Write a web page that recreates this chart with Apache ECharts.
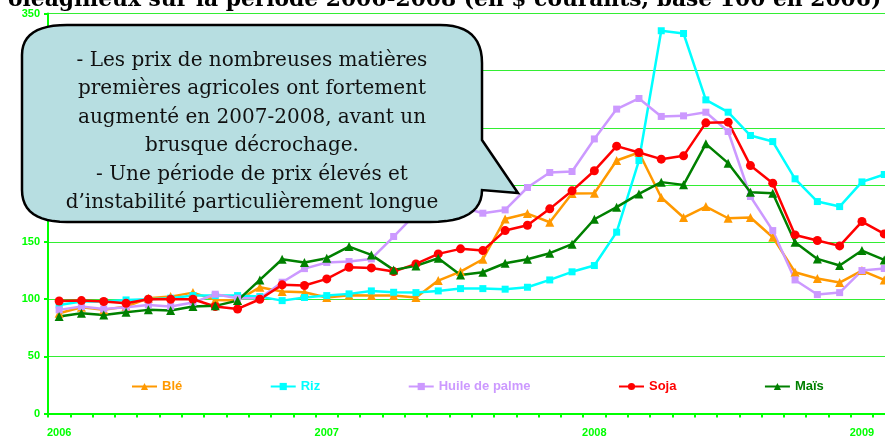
<!DOCTYPE html>
<html>
<head>
<meta charset="utf-8">
<script src="https://cdn.jsdelivr.net/npm/echarts@6/dist/echarts.min.js"></script>
<style>
  html, body { margin: 0; padding: 0; background: #fff; }
  #chart { width: 885px; height: 438px; }
</style>
</head>
<body>
<div id="chart"></div>
<script>
// mois de janvier 2006 à février 2009
var months = [];
for (var y = 2006; y <= 2009; y++) {
    for (var m = 1; m <= 12; m++) {
        if (months.length < 38) months.push(y + '-' + (m < 10 ? '0' + m : m));
    }
}

var yTicks = [0, 50, 100, 150, 200, 250, 300, 350];

var ble = [87.7, 93, 90.7, 93.6, 100.9, 102.3, 105.8, 99.4, 99, 110.5, 106.7, 106.1, 101.5, 103.5, 103.2, 103.2, 101.5, 116.3, 124.2, 135, 170.3, 175, 167.4, 192.5, 192.8, 221.4, 228.4, 189, 171.5, 181.1, 170.9, 171.5, 154.3, 123.6, 118.1, 114.6, 125.1, 116.9];
var riz = [95, 98, 98, 99.4, 100, 100.9, 103.2, 103.2, 103.2, 102.3, 98.8, 101.5, 103.2, 104.7, 107.3, 106.1, 105.8, 107.3, 109.3, 109.3, 108.8, 110.5, 116.9, 124, 129.5, 158.7, 221.4, 335, 332.6, 274.5, 263.7, 243.3, 238, 205.4, 185.5, 181.1, 202.7, 209.2];
var huile = [90.7, 93.6, 91.5, 93, 95, 93.6, 97.1, 104.4, 100.9, 100.9, 114.9, 126.8, 132.2, 133, 135.3, 154.9, 175, 190, 181, 175.3, 178.2, 197.8, 210.9, 211.8, 240.3, 266.4, 275.7, 260, 260.5, 263.7, 246.8, 189.9, 160.1, 116.9, 104.1, 105.8, 125.1, 126.9];
var soja = [98.5, 98.8, 98, 96.5, 100, 100, 100, 93.6, 91.5, 100, 112.6, 112, 117.8, 128, 127.4, 124.2, 130.9, 139.7, 144.1, 142.6, 160.1, 164.8, 179.1, 194.9, 212.5, 234, 228.4, 222.6, 225.5, 254.4, 255, 217, 201.6, 156.3, 151.4, 146.7, 168, 157.2];
var mais = [84.8, 87.7, 86.3, 88.6, 90.7, 90.1, 93.6, 94.2, 98.8, 116.9, 135, 132.2, 135.9, 146.1, 138.8, 125.7, 129.2, 135.9, 121.3, 123.6, 131.5, 135, 140.3, 148.2, 170, 180.6, 192.2, 202.5, 200.1, 236, 219.1, 193.7, 192.8, 149.9, 135.3, 129.5, 142.6, 134.4];

var seriesNames = ['Blé', 'Riz', 'Huile de palme', 'Soja', 'Maïs'];
var seriesColors = ['#ff9900', '#00ffff', '#cc99ff', '#ff0000', '#008000'];
var seriesSymbols = ['triangle', 'rect', 'rect', 'circle', 'triangle'];
var seriesSizes = [9, 7, 7, 9, 9];
var seriesData = [ble, riz, huile, soja, mais];

var calloutText = [
    '- Les prix de nombreuses matières',
    'premières agricoles ont fortement',
    'augmenté en 2007-2008, avant un',
    'brusque décrochage.',
    '- Une période de prix élevés et',
    'd\u2019instabilité particulièrement longue'
];

// contour de la bulle : segments droits et coins courbes (quadratiques)
function bubblePoints() {
    var pts = [];
    function line(x, y) { pts.push([x, y]); }
    function quad(cx, cy, x, y) {
        var p = pts[pts.length - 1];
        for (var k = 1; k <= 12; k++) {
            var t = k / 12, u = 1 - t;
            pts.push([u * u * p[0] + 2 * u * t * cx + t * t * x, u * u * p[1] + 2 * u * t * cy + t * t * y]);
        }
    }
    line(67, 25); line(440, 25);
    quad(482, 25, 482, 63);
    line(482, 140); line(518, 193); line(482, 190);
    quad(482, 222, 430, 222);
    line(67, 222);
    quad(22, 222, 22, 190);
    line(22, 55);
    quad(22, 25, 67, 25);
    return pts;
}

var green = '#00ff00';
var chart = echarts.init(document.getElementById('chart'));

chart.setOption({
    backgroundColor: '#ffffff',
    animation: false,
    grid: { left: 48, top: 13.6, width: 38 * 22.3, bottom: 24.5, outerBoundsMode: 'none', containLabel: false },
    legend: {
        left: 131,
        top: 380,
        padding: 0,
        itemGap: 87.5,
        itemWidth: 25,
        itemHeight: 9,
        textStyle: { fontFamily: 'Liberation Sans', fontWeight: 'bold', fontSize: 13 },
        data: seriesNames.map(function (n, i) {
            return { name: n, textStyle: { color: seriesColors[i] } };
        })
    },
    xAxis: {
        type: 'category',
        data: months,
        boundaryGap: true,
        axisLine: { lineStyle: { color: green, width: 2 } },
        axisTick: { show: true, interval: 0, length: 4, lineStyle: { color: green, width: 2 } },
        axisLabel: {
            interval: function (i) { return i % 12 === 0; },
            formatter: function (v) { return v.slice(0, 4); },
            color: green, fontFamily: 'Liberation Sans', fontWeight: 'bold', fontSize: 11,
            margin: 14
        },
        splitLine: { show: false }
    },
    yAxis: {
        type: 'value',
        min: yTicks[0],
        max: yTicks[yTicks.length - 1],
        interval: 50,
        axisLine: { show: true, lineStyle: { color: green, width: 2 } },
        axisTick: { show: true, length: 4, lineStyle: { color: green, width: 2 } },
        axisLabel: { color: green, fontFamily: 'Liberation Sans', fontWeight: 'bold', fontSize: 11, margin: 8 },
        splitLine: { lineStyle: { color: '#33ee33', width: 1 } }
    },
    series: seriesNames.map(function (n, i) {
        return {
            name: n,
            type: 'line',
            data: seriesData[i],
            symbol: seriesSymbols[i],
            symbolSize: seriesSizes[i],
            lineStyle: { color: seriesColors[i], width: 2.5 },
            itemStyle: { color: seriesColors[i] }
        };
    }),
    graphic: [
        {
            type: 'text', z: 100, x: 8, y: 11,
            style: {
                text: 'oléagineux sur la période 2006-2008 (en $ courants, base 100 en 2006)',
                font: 'bold 21.8px "DejaVu Serif"', fill: '#000',
                verticalAlign: 'bottom'
            }
        },
        {
            type: 'polygon', z: 100,
            shape: { points: bubblePoints() },
            style: { fill: '#b7dee1', stroke: '#000', lineWidth: 2.5 }
        },
        {
            type: 'text', z: 101, x: 252, y: 132,
            style: {
                text: calloutText.join('\n'),
                font: '20px "DejaVu Serif"', fill: '#111',
                align: 'center', verticalAlign: 'middle', lineHeight: 28.5
            }
        }
    ]
});
</script>
</body>
</html>
